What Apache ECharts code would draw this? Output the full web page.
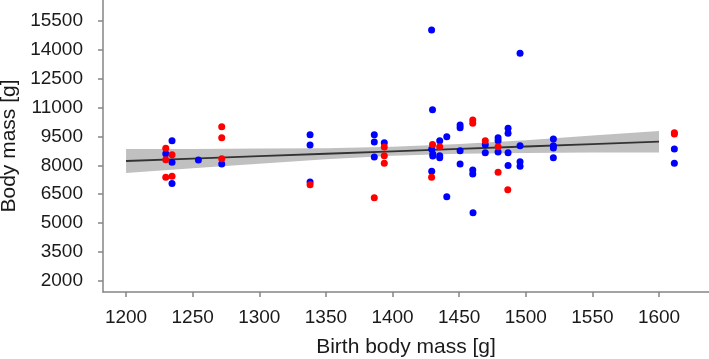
<!DOCTYPE html>
<html>
<head>
<meta charset="utf-8">
<script src="https://cdn.jsdelivr.net/npm/echarts@6/dist/echarts.min.js"></script>
<style>
html,body{margin:0;padding:0;background:#fff;}
#chart{width:709px;height:359px;}
</style>
</head>
<body>
<div id="chart"></div>
<script>
// ---- data ----
const xTicks = [1200, 1250, 1300, 1350, 1400, 1450, 1500, 1550, 1600];
const yTicks = [2000, 3500, 5000, 6500, 8000, 9500, 11000, 12500, 14000, 15500];

const blueX = [1234.5, 1229.8, 1234.5, 1234.5, 1254.3, 1271.8, 1338.1, 1338.1, 1338.1,
  1386.3, 1386.3, 1386.3, 1393.8, 1429.3, 1430.0, 1429.4, 1430.2, 1430.2, 1429.4,
  1435.4, 1435.4, 1435.4, 1440.7, 1440.7, 1450.7, 1450.7, 1450.7, 1450.7,
  1460.2, 1460.2, 1460.4, 1469.6, 1469.6, 1479.2, 1479.2, 1479.2,
  1486.7, 1486.7, 1486.7, 1486.7, 1495.7, 1495.7, 1495.7, 1495.7,
  1520.7, 1520.7, 1520.7, 1520.7, 1611.5, 1611.5];
const blueY = [9277, 8603, 8162, 7057, 8276, 8068, 9588, 9054, 7135,
  9588, 9210, 8432, 9173, 15019, 10885, 8831, 8587, 8483, 7690,
  9277, 8499, 8395, 9485, 6372, 10091, 9951, 8758, 8068,
  7757, 7550, 5543, 9069, 8655, 9433, 9277, 8691,
  9920, 9661, 8655, 7990, 13810, 9018, 8188, 7949,
  9365, 9018, 8898, 8390, 8846, 8105];

const redX = [1229.8, 1234.5, 1229.8, 1229.8, 1234.5, 1271.8, 1271.8, 1271.8,
  1338.1, 1386.3, 1393.8, 1393.8, 1393.8, 1430.0, 1429.3, 1435.4,
  1460.2, 1460.2, 1469.6, 1479.2, 1479.2, 1486.5, 1611.5, 1611.5];
const redY = [8883, 8551, 8292, 7384, 7436, 10003, 9433, 8338,
  6995, 6321, 8950, 8499, 8105, 9080, 7379, 8966,
  10351, 10180, 9277, 8966, 7638, 6735, 9692, 9624];

// regression line and its confidence band
const fitX = [1200, 1250, 1300, 1350, 1400, 1450, 1500, 1550, 1600];
const fitY = [8224, 8350, 8475, 8600, 8725, 8850, 8975, 9100, 9225];
const bandLow = [7604, 7850, 8085, 8310, 8490, 8600, 8645, 8660, 8670];
const bandHigh = [8844, 8850, 8870, 8890, 8960, 9100, 9305, 9540, 9780];

// ---- chart ----
const zip = (a, b) => a.map((v, i) => [v, b[i]]);
const chart = echarts.init(document.getElementById('chart'), null, {renderer: 'canvas'});
const txt = '#1a1a1a';
const axisCol = '#858585';
const font = 'Liberation Sans, Arial, sans-serif';

chart.setOption({
  animation: false,
  backgroundColor: '#fff',
  grid: {left: 103, right: 0, top: 0, bottom: 67, containLabel: false, outerBoundsMode: 'none'},
  xAxis: {
    type: 'value', min: 1182.7, max: 1637.5,
    name: 'Birth body mass [g]', nameLocation: 'middle', nameGap: 45,
    nameTextStyle: {fontFamily: font, fontSize: 21, color: txt},
    axisLine: {show: true, onZero: false, lineStyle: {color: axisCol, width: 1.5}},
    axisTick: {show: true, inside: false, length: 5, customValues: xTicks, lineStyle: {color: axisCol, width: 1.5}},
    axisLabel: {customValues: xTicks, margin: 16, fontFamily: font, fontSize: 19, color: txt,
      formatter: v => String(v)},
    splitLine: {show: false}
  },
  yAxis: {
    type: 'value', min: 1429.5, max: 16574,
    name: 'Body mass [g]', nameLocation: 'middle', nameGap: 70, nameRotate: 90,
    nameTextStyle: {fontFamily: font, fontSize: 21, color: txt},
    axisLine: {show: true, onZero: false, lineStyle: {color: axisCol, width: 1.5}},
    axisTick: {show: true, inside: false, length: 5, customValues: yTicks, lineStyle: {color: axisCol, width: 1.5}},
    axisLabel: {customValues: yTicks, margin: 20, fontFamily: font, fontSize: 19, color: txt,
      formatter: v => String(v)},
    splitLine: {show: false}
  },
  series: [
    {
      type: 'custom', silent: true, z: 1,
      data: [0],
      renderItem: function (params, api) {
        const pts = [];
        for (let i = 0; i < fitX.length; i++) pts.push(api.coord([fitX[i], bandHigh[i]]));
        for (let i = fitX.length - 1; i >= 0; i--) pts.push(api.coord([fitX[i], bandLow[i]]));
        return {type: 'polygon', shape: {points: pts}, style: {fill: '#c0c0c0'}};
      }
    },
    {
      type: 'line', symbol: 'none', silent: true,
      data: zip(fitX, fitY),
      lineStyle: {color: '#333333', width: 1.8}, z: 2
    },
    {
      type: 'scatter', symbolSize: 7,
      data: zip(blueX, blueY),
      itemStyle: {color: '#0000ff', opacity: 1}, z: 3
    },
    {
      type: 'scatter', symbolSize: 7,
      data: zip(redX, redY),
      itemStyle: {color: '#ff0000', opacity: 1}, z: 4
    }
  ]
});
</script>
</body>
</html>
